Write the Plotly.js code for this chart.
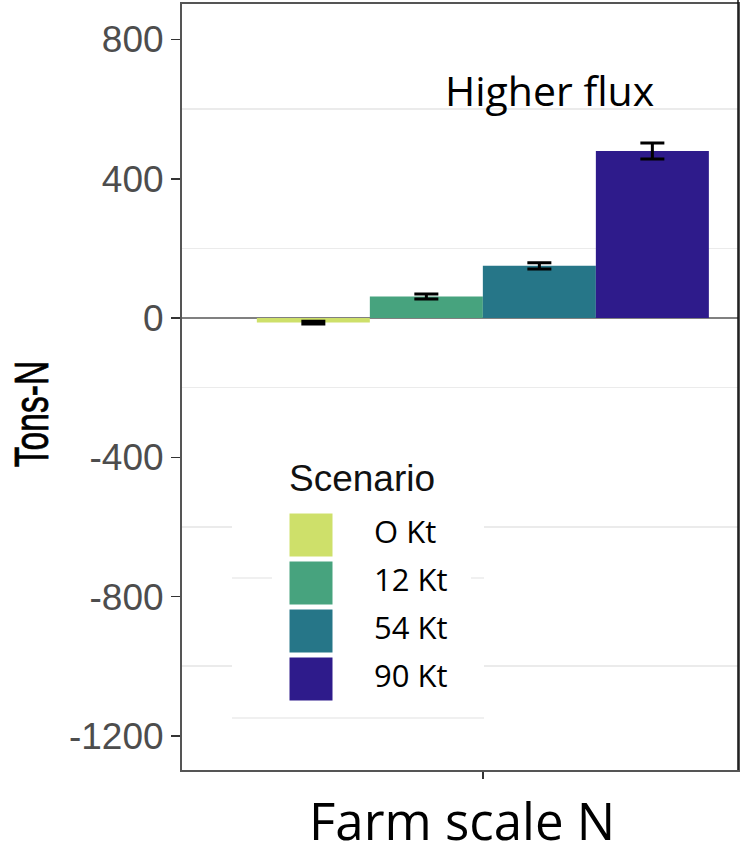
<!DOCTYPE html>
<html>
<head>
<meta charset="utf-8">
<script src="https://cdn.plot.ly/plotly-3.0.1.min.js"></script>
<style>
  html, body { margin: 0; padding: 0; background: #ffffff; }
  #chart { width: 748px; height: 858px; }
</style>
</head>
<body>
<div id="chart"></div>
<script>
// Net nitrogen flux at farm scale for each fertiliser scenario
const group = ['Farm scale N'];
const scenarios = ['O Kt', '12 Kt', '54 Kt', '90 Kt'];
const fluxValues = [-13, 62, 150, 480];
const fluxErrors = [4, 7, 9, 23];
const scenarioColors = ['#cee06a', '#47a37e', '#267688', '#2e1b8b'];
const yTickVals = [-1200, -800, -400, 0, 400, 800];
const yTickText = ['-1200', '-800', '-400', '0', '400', '800'];
const yGridVals = [-1000, -600, -200, 200, 600];

// Figure geometry (pixels)
const W = 748, H = 858;
const M = { l: 182, r: 10, t: 4, b: 88 };
const plotW = W - M.l - M.r;
const plotH = H - M.t - M.b;
const px = x => (x - M.l) / plotW;          // page x -> paper x
const py = y => (H - M.b - y) / plotH;      // page y -> paper y

const traces = scenarios.map((name, i) => ({
  type: 'bar',
  name: name,
  x: group,
  y: [fluxValues[i]],
  marker: { color: scenarioColors[i], line: { width: 0 } },
  error_y: {
    type: 'data',
    array: [fluxErrors[i]],
    visible: true,
    color: '#000000',
    thickness: 3,
    width: 12
  },
  showlegend: false,
  hoverinfo: 'name+y'
}));

const shapes = [];
const annotations = [];

// Legend panel sits over the grid
shapes.push({
  type: 'rect', xref: 'paper', yref: 'paper', layer: 'above',
  x0: px(232), x1: px(484), y0: py(735), y1: py(440),
  fillcolor: '#ffffff', line: { width: 0 }
});
// faint rules carried inside the legend panel
[[232, 272, 578], [471, 484, 578], [232, 484, 718]].forEach(([a, b, y]) => {
  shapes.push({
    type: 'line', xref: 'paper', yref: 'paper', layer: 'above',
    x0: px(a), x1: px(b), y0: py(y), y1: py(y),
    line: { color: '#ebebeb', width: 1.5 }
  });
});

// Legend title, swatches and labels
annotations.push({
  xref: 'paper', yref: 'paper', x: px(287), y: py(478),
  xanchor: 'left', yanchor: 'middle', showarrow: false,
  text: 'Scenario',
  font: { family: 'Liberation Sans, Arial, sans-serif', size: 37, color: '#111111' }
});
scenarios.forEach((name, i) => {
  const top = 513 + i * 48;
  shapes.push({
    type: 'rect', xref: 'paper', yref: 'paper', layer: 'above',
    x0: px(289), x1: px(333), y0: py(top + 44), y1: py(top),
    fillcolor: scenarioColors[i], line: { color: '#ffffff', width: 1 }
  });
  annotations.push({
    xref: 'paper', yref: 'paper', x: px(372), y: py(top + 18),
    xanchor: 'left', yanchor: 'middle', showarrow: false,
    text: name,
    font: { family: 'Open Sans, Noto Sans, sans-serif', size: 31, color: '#000000' }
  });
});

// Right-hand frame line
shapes.push({
  type: 'line', xref: 'paper', yref: 'paper', layer: 'above',
  x0: px(738), x1: px(738), y0: 0, y1: py(0),
  line: { color: '#111111', width: 1.5 }
});

// Panel text
annotations.push({
  xref: 'paper', yref: 'y', x: px(549), y: 655,
  xanchor: 'center', yanchor: 'middle', showarrow: false,
  text: 'Higher flux',
  font: { family: 'Open Sans, Noto Sans, sans-serif', size: 41, color: '#000000' }
});

// Axis titles
annotations.push({
  xref: 'paper', yref: 'paper', x: px(462), y: py(820),
  xanchor: 'center', yanchor: 'middle', showarrow: false,
  text: 'Farm scale N',
  font: { family: 'Open Sans, Noto Sans, sans-serif', size: 51, color: '#000000' }
});
annotations.push({
  xref: 'paper', yref: 'paper', x: px(31), y: py(414),
  xanchor: 'center', yanchor: 'middle', showarrow: false, textangle: -90,
  text: 'Tons-N',
  font: { family: 'Liberation Sans, Arial, sans-serif', size: 48, color: '#000000' }
});

const layout = {
  width: W, height: H,
  margin: M,
  paper_bgcolor: '#ffffff',
  plot_bgcolor: '#ffffff',
  barmode: 'group',
  bargap: 0.1,
  bargroupgap: 0,
  showlegend: false,
  xaxis: {
    type: 'category',
    range: [-0.599, 0.508],
    showticklabels: false,
    ticks: 'outside', ticklen: 7, tickwidth: 1.5, tickcolor: '#333333',
    showgrid: false, zeroline: false,
    showline: true, mirror: true, linecolor: '#555555', linewidth: 2,
    fixedrange: true
  },
  yaxis: {
    range: [-1298, 902],
    tickmode: 'array', tickvals: yTickVals, ticktext: yTickText,
    ticks: 'outside', ticklen: 9, tickwidth: 1.5, tickcolor: '#333333',
    tickfont: { family: 'Liberation Sans, Arial, sans-serif', size: 37, color: '#4d4d4d' },
    showgrid: false,
    minor: { tickmode: 'array', tickvals: yGridVals, showgrid: true, gridcolor: '#ebebeb', gridwidth: 1.5, ticks: '' },
    zeroline: true, zerolinecolor: '#808080', zerolinewidth: 1.5,
    showline: true, mirror: true, linecolor: '#555555', linewidth: 2,
    fixedrange: true
  },
  shapes: shapes,
  annotations: annotations
};

// Condense the y-axis title along its reading direction
function condenseTitle(gd) {
  gd.querySelectorAll('text.annotation-text').forEach(t => {
    if (t.textContent !== 'Tons-N') return;
    const bb = t.getBBox();
    const cx = bb.x + bb.width / 2, cy = bb.y + bb.height / 2;
    const prev = t.getAttribute('transform') || '';
    t.setAttribute('transform',
      prev + ` translate(${cx},${cy}) scale(0.7,1) translate(${-cx},${-cy})`);
    t.style.stroke = '#000000';
    t.style.strokeWidth = '0.8px';
  });
}

Plotly.newPlot('chart', traces, layout, { displayModeBar: false, staticPlot: true })
  .then(gd => condenseTitle(gd));
</script>
</body>
</html>
